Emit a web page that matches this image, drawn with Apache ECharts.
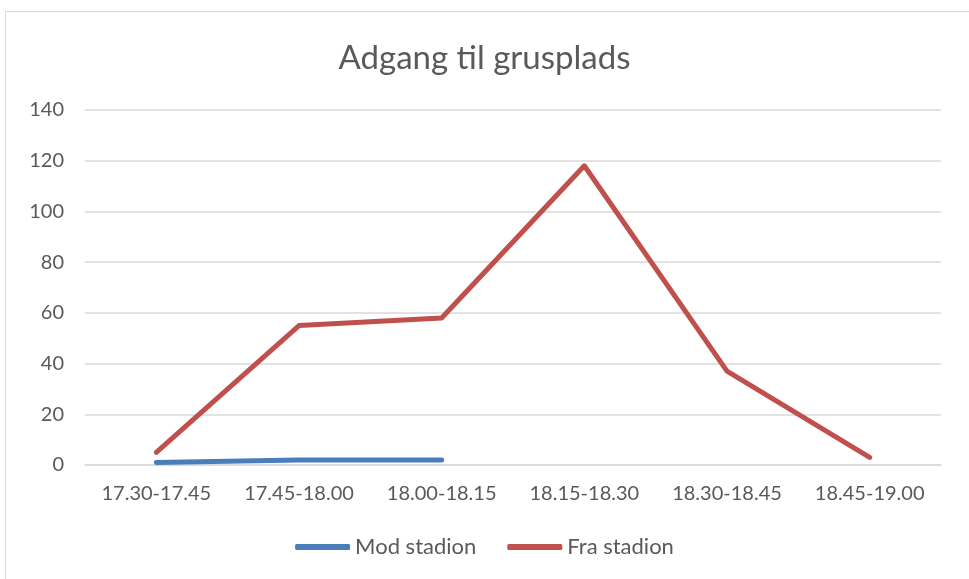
<!DOCTYPE html>
<html>
<head>
<meta charset="utf-8">
<script src="https://cdn.jsdelivr.net/npm/echarts@6/dist/echarts.min.js"></script>
<style>
html,body{margin:0;padding:0;background:#fff;overflow:hidden;}
#frame{position:absolute;left:5px;top:11px;width:990px;height:600px;border:1.5px solid #d9d9d9;box-sizing:border-box;}
#chart{position:absolute;left:0;top:0;width:969px;height:579px;}
</style>
</head>
<body>
<div id="frame"></div>
<div id="chart"></div>
<script>
var categories = ["17.30-17.45","17.45-18.00","18.00-18.15","18.15-18.30","18.30-18.45","18.45-19.00"];
var modStadion = [1, 2, 2, null, null, null];
var fraStadion = [5, 55, 58, 118, 37, 3];
var yTicks = [0, 20, 40, 60, 80, 100, 120, 140];

var font = "Lato, 'Open Sans', sans-serif";
var chart = echarts.init(document.getElementById('chart'));
chart.setOption({
  backgroundColor: 'transparent',
  animation: false,
  title: {
    text: 'Adgang til grusplads',
    left: 'center',
    top: 37,
    textStyle: { fontFamily: font, fontSize: 33, fontWeight: 'normal', color: '#595959' }
  },
  legend: {
    bottom: 16,
    left: 'center',
    itemWidth: 55,
    itemHeight: 6,
    itemGap: 31,
    icon: 'roundRect',
    textStyle: { fontFamily: font, fontSize: 22, color: '#595959' },
    data: ['Mod stadion', 'Fra stadion']
  },
  grid: { left: 85, right: 28, top: 110, bottom: 114, containLabel: false },
  xAxis: {
    type: 'category',
    data: categories,
    boundaryGap: true,
    axisLine: { show: true, lineStyle: { color: '#d9d9d9', width: 1.5 } },
    axisTick: { show: false },
    axisLabel: { fontFamily: font, fontSize: 20, color: '#595959', margin: 19 }
  },
  yAxis: {
    type: 'value',
    min: yTicks[0],
    max: yTicks[yTicks.length - 1],
    interval: 20,
    axisLine: { show: false },
    axisTick: { show: false },
    axisLabel: { fontFamily: font, fontSize: 20, color: '#595959', margin: 21 },
    splitLine: { lineStyle: { color: '#d9d9d9', width: 1.5 } }
  },
  series: [
    {
      name: 'Mod stadion',
      type: 'line',
      data: modStadion,
      symbol: 'none',
      connectNulls: false,
      lineStyle: { color: '#4a7ebb', width: 5, cap: 'round', join: 'round' },
      itemStyle: { color: '#4a7ebb' }
    },
    {
      name: 'Fra stadion',
      type: 'line',
      data: fraStadion,
      symbol: 'none',
      lineStyle: { color: '#c0504d', width: 5, cap: 'round', join: 'round' },
      itemStyle: { color: '#c0504d' }
    }
  ]
});
</script>
</body>
</html>
